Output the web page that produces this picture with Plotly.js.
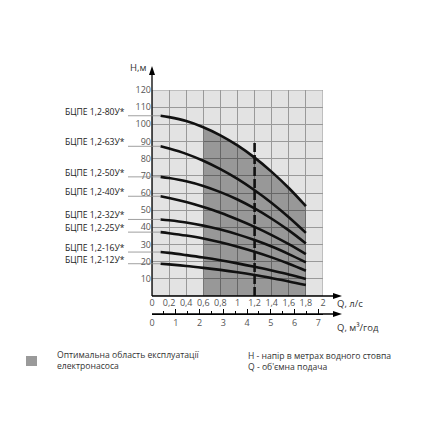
<!DOCTYPE html>
<html>
<head>
<meta charset="utf-8">
<script src="https://cdn.plot.ly/plotly-3.0.1.min.js"></script>
<style>html,body{margin:0;padding:0;background:#fff;}#chart{width:430px;height:430px;}</style>
</head>
<body>
<div id="chart"></div>
<script>
// ---- data ----
const qPoints = [0.1, 0.2, 0.4, 0.6, 0.8, 1.0, 1.2, 1.4, 1.6, 1.8];
const pumpNames = ["БЦПЕ 1,2-80У*", "БЦПЕ 1,2-63У*", "БЦПЕ 1,2-50У*", "БЦПЕ 1,2-40У*",
                   "БЦПЕ 1,2-32У*", "БЦПЕ 1,2-25У*", "БЦПЕ 1,2-16У*", "БЦПЕ 1,2-12У*"];
const head80 = [105, 104.2, 101.9, 98.3, 93.6, 87.7, 80.6, 72.3, 62.9, 52.3];
const head63 = [87.2, 85.9, 82.8, 78.8, 73.9, 68.2, 61.6, 54.2, 45.9, 36.8];
const head50 = [69.4, 68.7, 66.8, 64.1, 60.5, 56.2, 51.0, 45.0, 38.2, 30.6];
const head40 = [58.1, 57.1, 54.7, 51.8, 48.5, 44.6, 40.3, 35.5, 30.2, 24.4];
const head32 = [44.6, 44.1, 42.8, 41.0, 38.7, 35.9, 32.6, 28.8, 24.4, 19.6];
const head25 = [37.2, 36.6, 35.2, 33.5, 31.3, 28.7, 25.8, 22.5, 18.8, 14.7];
const head16 = [25.6, 25.1, 23.8, 22.4, 20.8, 19.0, 17.0, 14.8, 12.5, 9.9];
const head12 = [18.8, 18.4, 17.5, 16.4, 15.2, 13.8, 12.2, 10.4, 8.5, 6.4];
const optimalFrom = 0.6, optimalTo = 1.8;
const nominalQ = 1.2, nominalTop = 90;
const qTickVals = [0, 0.2, 0.4, 0.6, 0.8, 1, 1.2, 1.4, 1.6, 1.8, 2];
const qTickText = ["0", "0,2", "0,4", "0,6", "0,8", "1", "1,2", "1,4", "1,6", "1,8", "2"];
const hTickVals = [10, 20, 30, 40, 50, 60, 70, 80, 90, 100, 110, 120];
const m3TickVals = [0, 1, 2, 3, 4, 5, 6, 7];
const lsToM3h = 3.6;
const legendText = "Оптимальна область експлуатації<br>електронасоса";
const noteText = "Н - напір в метрах водного стовпа<br>Q - об'ємна подача";

// ---- geometry helpers (pixel -> paper) ----
const L = 152, R = 323, T = 90, B2 = 314, B = 296;
const W = R - L, H = B2 - T;
const px = x => (x - L) / W;
const py = y => (B2 - y) / H;

const heads = [head80, head63, head50, head40, head32, head25, head16, head12];

const traces = [];
// optimal zone fill under top curve
const fx = [], fy = [];
qPoints.forEach((q, i) => { if (q >= optimalFrom - 1e-9 && q <= optimalTo + 1e-9) { fx.push(q); fy.push(head80[i]); } });
traces.push({x: fx, y: fy, type: 'scatter', mode: 'lines', fill: 'tozeroy',
  fillcolor: 'rgba(0,0,0,0.33)', line: {width: 0, shape: 'spline', smoothing: 1}, hoverinfo: 'skip'});
heads.forEach((h, i) => {
  traces.push({x: qPoints, y: h, type: 'scatter', mode: 'lines', name: pumpNames[i],
    line: {color: '#111', width: 2.6, shape: 'spline', smoothing: 1}});
});
traces.push({x: [nominalQ, nominalQ], y: [0, nominalTop], type: 'scatter', mode: 'lines',
  line: {color: '#111', width: 2.6, dash: '9px,3px'}});
// invisible trace to activate xaxis2
traces.push({x: [0, 2 * lsToM3h], y: [0, 0], xaxis: 'x2', type: 'scatter', mode: 'lines',
  line: {width: 0}, hoverinfo: 'skip', showlegend: false});

const shapes = [];
const annotations = [];
const fontMain = {family: 'Open Sans, sans-serif', size: 8.6, color: '#222'};
const fontTick = {family: 'Open Sans, sans-serif', size: 9, color: '#555'};

// border grid rect
shapes.push({type: 'rect', xref: 'x', yref: 'y', x0: 0, x1: 2, y0: 0, y1: 120,
  line: {color: '#999', width: 1}, layer: 'below'});
// axis extensions and arrows
shapes.push({type: 'line', xref: 'paper', yref: 'paper', x0: 0, x1: 0, y0: py(B), y1: py(70), line: {color: '#000', width: 1.3}});
shapes.push({type: 'path', xref: 'paper', yref: 'paper', fillcolor: '#000', line: {width: 0},
  path: `M ${px(152)} ${py(66)} L ${px(149)} ${py(75)} L ${px(155)} ${py(75)} Z`});
shapes.push({type: 'line', xref: 'paper', yref: 'paper', x0: 0, x1: px(336), y0: py(B), y1: py(B), line: {color: '#000', width: 1.3}});
shapes.push({type: 'path', xref: 'paper', yref: 'paper', fillcolor: '#000', line: {width: 0},
  path: `M ${px(342)} ${py(B)} L ${px(333)} ${py(B - 3)} L ${px(333)} ${py(B + 3)} Z`});
shapes.push({type: 'line', xref: 'paper', yref: 'paper', x0: 0, x1: px(336), y0: py(B2), y1: py(B2), line: {color: '#000', width: 1.3}});
shapes.push({type: 'path', xref: 'paper', yref: 'paper', fillcolor: '#000', line: {width: 0},
  path: `M ${px(342)} ${py(B2)} L ${px(333)} ${py(B2 - 3)} L ${px(333)} ${py(B2 + 3)} Z`});

// pump labels with leader lines
heads.forEach((h, i) => {
  shapes.push({type: 'line', xref: 'paper', yref: 'y', x0: px(128), x1: 0, y0: h[0], y1: h[0],
    line: {color: '#888', width: 0.8}});
  shapes.push({type: 'line', xref: 'x', yref: 'y', x0: 0, x1: qPoints[0], y0: h[0], y1: h[0],
    line: {color: '#888', width: 0.8}});
  annotations.push({xref: 'paper', yref: 'y', x: px(127), y: h[0], xanchor: 'right', yanchor: 'middle',
    yshift: 4, showarrow: false, text: pumpNames[i], font: fontMain});
});

// axis titles
annotations.push({xref: 'paper', yref: 'paper', x: px(148), y: py(68), xanchor: 'right', yanchor: 'middle',
  showarrow: false, text: 'Н,м', font: {family: 'Open Sans, sans-serif', size: 9.5, color: '#333'}});
annotations.push({xref: 'paper', yref: 'paper', x: px(335), y: py(303), xanchor: 'left', yanchor: 'middle',
  showarrow: false, text: 'Q, л/с', font: {family: 'Open Sans, sans-serif', size: 9.5, color: '#333'}});
annotations.push({xref: 'paper', yref: 'paper', x: px(335), y: py(327), xanchor: 'left', yanchor: 'middle',
  showarrow: false, text: 'Q, м³/год', font: {family: 'Open Sans, sans-serif', size: 9.5, color: '#333'}});

// legend
shapes.push({type: 'rect', xref: 'paper', yref: 'paper', x0: px(26), x1: px(37), y0: py(356), y1: py(366),
  fillcolor: '#9a9a9a', line: {width: 0}});
annotations.push({xref: 'paper', yref: 'paper', x: px(55), y: py(360), xanchor: 'left', yanchor: 'middle',
  align: 'left', showarrow: false, text: legendText, font: {family: 'Open Sans, sans-serif', size: 8.6, color: '#333'}});
annotations.push({xref: 'paper', yref: 'paper', x: px(246), y: py(361), xanchor: 'left', yanchor: 'middle',
  align: 'left', showarrow: false, text: noteText, font: {family: 'Open Sans, sans-serif', size: 8.6, color: '#333'}});

const layout = {
  width: 430, height: 430,
  margin: {l: L, r: 430 - R, t: T, b: 430 - B2, pad: 0},
  paper_bgcolor: '#fff', plot_bgcolor: '#e3e3e3',
  showlegend: false,
  xaxis: {range: [0, 2], domain: [0, 1], tickvals: qTickVals, ticktext: qTickText,
    showgrid: true, gridcolor: '#999', gridwidth: 1, zeroline: false, showline: false,
    ticks: '', tickfont: fontTick, anchor: 'y', fixedrange: true},
  xaxis2: {range: [0, 2 * lsToM3h], domain: [0, 1], overlaying: 'x', anchor: 'free', position: 0, side: 'bottom',
    tickvals: m3TickVals, showgrid: false, zeroline: false, showline: true, linecolor: '#000', linewidth: 1.3,
    ticks: 'inside', ticklen: 5, tickwidth: 1, tickcolor: '#000', tickfont: fontTick,
    minor: {dtick: 0.5, tick0: 0, ticks: 'inside', ticklen: 3, tickcolor: '#000', showgrid: false}},
  yaxis: {range: [0, 120], domain: [py(B), 1], tickvals: hTickVals, showgrid: true, gridcolor: '#999', gridwidth: 1,
    zeroline: false, showline: false, ticks: '', tickfont: fontTick, fixedrange: true},
  shapes: shapes, annotations: annotations
};

Plotly.newPlot('chart', traces, layout, {staticPlot: true, displayModeBar: false});
</script>
</body>
</html>
